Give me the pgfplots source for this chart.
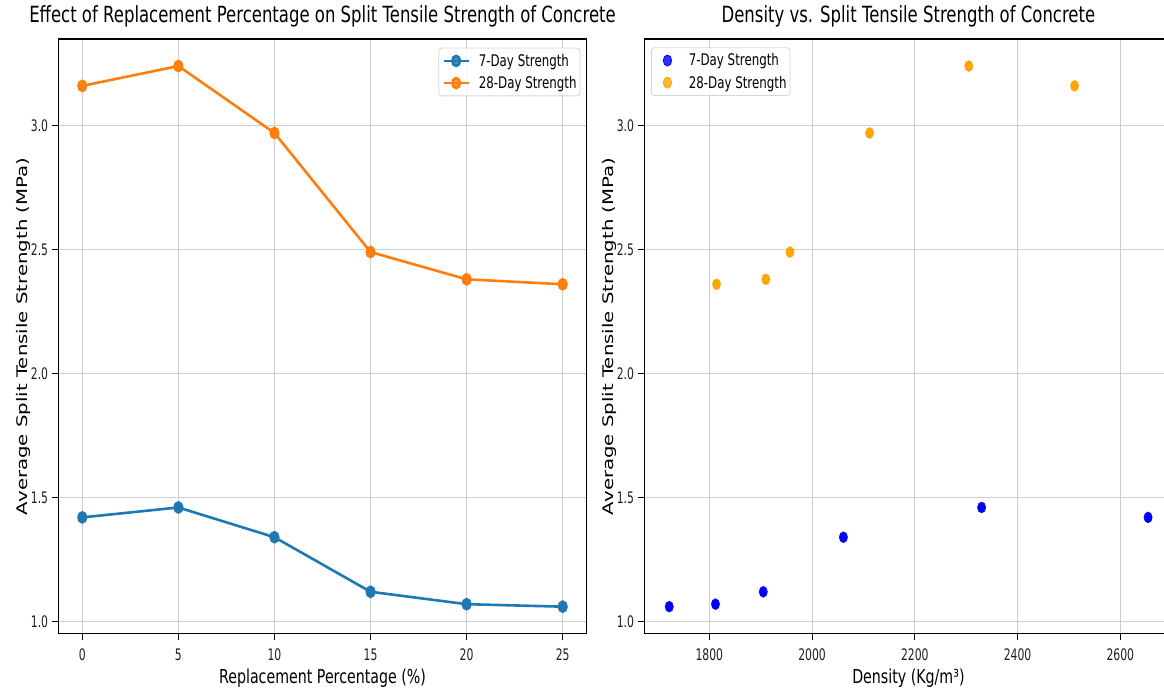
\documentclass[border=0pt]{standalone}
\usepackage{fontspec}
\setmainfont{DejaVu Sans}[FakeStretch=0.74]
\newfontfamily\rotfont{DejaVu Sans}[FakeStretch=1.351]
\newfontfamily\tickfont{DejaVu Sans}[FakeStretch=0.68]
\usepackage{pgfplots}
\pgfplotsset{compat=1.18}
\definecolor{tabblue}{HTML}{1F77B4}
\definecolor{taborange}{HTML}{FF7F0E}
\definecolor{mblue}{HTML}{0000FF}
\definecolor{morange}{HTML}{FFA500}
\definecolor{gridc}{HTML}{CFCFCF}
\definecolor{legc}{HTML}{D5D5D5}
\pgfplotsset{
  common/.style={
    scale only axis,
    width=528.4bp, height=594.7bp,
    anchor=south west,
    ymin=0.951, ymax=3.349,
    ytick={1.0,1.5,2.0,2.5,3.0},
    grid=major,
    major grid style={gridc, line width=0.9bp},
    axis line style={black, line width=1.1bp},
    tick align=outside,
    tick pos=left,
    major tick length=6bp,
    tick style={black, line width=1bp},
    /pgf/number format/assume math mode=true,
    yticklabel style={/pgf/number format/fixed, /pgf/number format/precision=1, /pgf/number format/fixed zerofill, inner sep=0pt, anchor=east},
    xticklabel style={inner sep=0pt, anchor=north},
    xticklabel shift=8.8bp,
    yticklabel shift=4bp,
    ticklabel style={font=\tickfont\fontsize{15.9bp}{18bp}\selectfont, text=black!88},
    title style={font=\fontsize{22.3bp}{25bp}\selectfont, at={(0.5,1)}, anchor=base, yshift=11bp},
    xlabel style={font=\fontsize{19.2bp}{22bp}\selectfont, at={(0.5,0)}, anchor=base, yshift=-50bp},
    ylabel style={font=\rotfont\fontsize{14.6bp}{18bp}\selectfont, at={(axis description cs:-0.0662,0.5)}, anchor=center},
    ylabel={Average Split Tensile Strength (MPa)},
    legend cell align=left,
    legend style={font=\fontsize{16bp}{18bp}\selectfont, draw=legc, line width=0.8bp, rounded corners=3bp, fill=white, fill opacity=0.8, text opacity=1, inner xsep=3.4bp, inner ysep=6bp, row sep=8.5bp, column sep=8.7bp, nodes={inner sep=0pt}},
    legend image code/.code={\path[draw=none, fill=none] (0bp,-1bp) rectangle (25.3bp,1bp); \draw[mark repeat=2,mark phase=2,#1] plot coordinates {(0bp,0bp) (12.65bp,0bp) (25.3bp,0bp)};},
  }
}
\begin{document}
\begin{tikzpicture}
\useasboundingbox (0,0) rectangle (1164bp,690bp);
\begin{axis}[common,
  at={(58.3bp,56.3bp)},
  xmin=-1.25, xmax=26.25,
  xtick={0,5,10,15,20,25},
  title={Effect of Replacement Percentage on Split Tensile Strength of Concrete},
  xlabel={Replacement Percentage (\%)},
  legend style={at={(1,1)}, anchor=north east, xshift=-6.4bp, yshift=-8.7bp},
]
\addplot[tabblue, line width=2.6bp, mark=*, mark size=5bp, mark options={xscale=0.76, solid, fill=tabblue, draw=tabblue}]
  coordinates {(0,1.42) (5,1.46) (10,1.34) (15,1.12) (20,1.07) (25,1.06)};
\addlegendentry{7-Day Strength}
\addplot[taborange, line width=2.6bp, mark=*, mark size=5bp, mark options={xscale=0.76, solid, fill=taborange, draw=taborange}]
  coordinates {(0,3.16) (5,3.24) (10,2.97) (15,2.49) (20,2.38) (25,2.36)};
\addlegendentry{28-Day Strength}
\end{axis}
\begin{axis}[common,
  at={(644.2bp,56.3bp)},
  xmin=1673.25, xmax=2701.75,
  xtick={1800,2000,2200,2400,2600},
  xticklabel style={/pgf/number format/1000 sep={}},
  title={Density vs. Split Tensile Strength of Concrete},
  xlabel={Density (Kg/m³)},
  legend style={at={(0,1)}, anchor=north west, xshift=6.8bp, yshift=-8.3bp},
]
\addplot[only marks, mark=*, mark size=5.5bp, mark options={xscale=0.76, fill=mblue, draw=mblue}]
  coordinates {(2654,1.42) (2330,1.46) (2061,1.34) (1905,1.12) (1812,1.07) (1722,1.06)};
\addlegendentry{7-Day Strength}
\addplot[only marks, mark=*, mark size=5.5bp, mark options={xscale=0.76, fill=morange, draw=morange}]
  coordinates {(2511,3.16) (2305,3.24) (2112,2.97) (1957,2.49) (1910,2.38) (1814,2.36)};
\addlegendentry{28-Day Strength}
\end{axis}
\end{tikzpicture}
\end{document}
